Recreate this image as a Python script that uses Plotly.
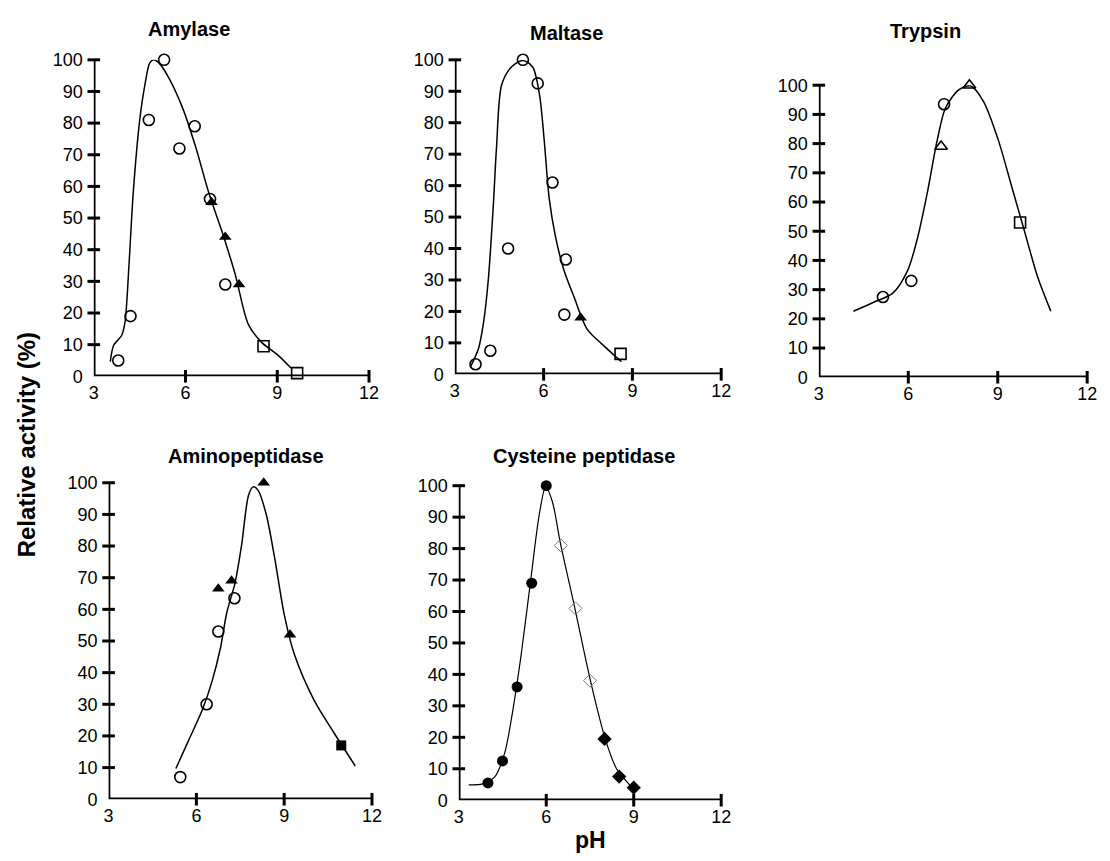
import plotly.graph_objects as go
from plotly.subplots import make_subplots

# ---------------- data (pH, relative activity %) ----------------
# Amylase
amy_circ_x = [3.8, 4.2, 4.8, 5.3, 5.8, 6.3, 6.8, 7.3]
amy_circ_y = [5, 19, 81, 100, 72, 79, 56, 29]
amy_tri_x = [6.85, 7.3, 7.75]
amy_tri_y = [55, 44, 29]
amy_sq_x = [8.55, 9.65]
amy_sq_y = [9.5, 1]
amy_fit_x = [3.54, 3.65, 3.91, 4.02, 4.15, 4.29, 4.5, 4.67, 4.83, 4.96, 5.15, 5.47, 5.9, 6.33, 6.76, 7.19, 7.62, 8.05, 8.48, 9.02, 9.45]
amy_fit_y = [4.6, 9.8, 12.9, 17, 35, 58, 80.8, 92, 99, 100, 98.8, 94, 84.9, 72.5, 58, 45.8, 32.4, 16.5, 10.8, 6.7, 2.6]

# Maltase
mal_circ_x = [3.7, 4.2, 4.8, 5.3, 5.8, 6.3, 6.75, 6.7]
mal_circ_y = [3.2, 7.5, 40, 100, 92.5, 61, 36.5, 19]
mal_tri_x = [7.25]
mal_tri_y = [18]
mal_sq_x = [8.6]
mal_sq_y = [6.5]
mal_fit_x = [3.52, 3.8, 3.97, 4.13, 4.3, 4.41, 4.58, 4.91, 5.3, 5.63, 5.86, 6.02, 6.19, 6.41, 6.69, 7.02, 7.47, 8.02, 8.63]
mal_fit_y = [2.2, 8.2, 16.5, 30, 53.7, 72.4, 92, 97.7, 99.8, 97.7, 89, 74.4, 55.8, 43.4, 33, 24.8, 14.4, 9.2, 4]

# Trypsin
try_circ_x = [5.15, 6.1, 7.2]
try_circ_y = [27.5, 33, 93.5]
try_otri_x = [7.1, 8.05]
try_otri_y = [79, 100]
try_sq_x = [9.75]
try_sq_y = [53]
try_fit_x = [4.16, 4.82, 5.48, 5.98, 6.31, 6.64, 6.97, 7.25, 7.69, 8.08, 8.52, 9.02, 9.46, 9.9, 10.34, 10.78]
try_fit_y = [22.6, 25.6, 28.8, 36.6, 47.7, 63.3, 81.2, 92.3, 98.4, 99.8, 94.5, 81.2, 65.6, 49.9, 34.3, 22.6]

# Aminopeptidase
ami_circ_x = [5.45, 6.35, 6.75, 7.3]
ami_circ_y = [7, 30, 53, 63.5]
ami_tri_x = [6.75, 7.2, 8.3, 9.2]
ami_tri_y = [66.5, 69, 100, 52]
ami_fsq_x = [10.95]
ami_fsq_y = [17]
ami_fit_x = [5.3, 5.75, 6.2, 6.54, 6.82, 7.04, 7.32, 7.55, 7.78, 7.94, 8.11, 8.39, 8.67, 9.01, 9.35, 10.02, 10.7, 11.43]
ami_fit_y = [9.7, 18.9, 28.2, 37.4, 47.7, 59, 68.3, 80.6, 96, 98.7, 97.6, 89.9, 76.5, 58, 45.7, 31.3, 21, 10.5]

# Cysteine peptidase
cys_fcirc_x = [4.0, 4.5, 5.0, 5.5, 6.0]
cys_fcirc_y = [5.5, 12.5, 36, 69, 100]
cys_odia_x = [6.5, 7.0, 7.5]
cys_odia_y = [81, 61, 38]
cys_fdia_x = [8.0, 8.5, 9.0]
cys_fdia_y = [19.5, 7.5, 4]
cys_fit_x = [3.34, 3.79, 4.24, 4.58, 4.8, 5.14, 5.48, 5.76, 5.98, 6.21, 6.49, 6.94, 7.39, 7.73, 8.01, 8.41, 8.97]
cys_fit_y = [4.9, 5.1, 7.5, 15.2, 25.6, 46.3, 71, 90.8, 99.6, 94.9, 81.5, 62.8, 43.2, 29.7, 19.9, 10, 3.8]

panel_titles = ["Amylase", "Maltase", "Trypsin", "Aminopeptidase", "Cysteine peptidase"]
x_range = [3, 12]
y_range = [0, 100]
x_ticks = [3, 6, 9, 12]
y_ticks = [0, 10, 20, 30, 40, 50, 60, 70, 80, 90, 100]
y_label = "Relative activity (%)"
x_label = "pH"

# ---------------- layout geometry ----------------
W, H = 1110, 861
# pixel boxes: (left, right, top, bottom)
boxes = [
    (90, 369, 51, 375),
    (456, 726, 51, 373),
    (825, 1097, 77, 376),
    (105, 372, 484, 808),
    (460, 726, 487, 809),
]
cells = [(1, 1), (1, 2), (1, 3), (2, 1), (2, 2)]
title_pos = [(187, 19), (569, 24), (933, 21), (244, 457), (587, 457)]

FONT = "Liberation Sans, Arial, sans-serif"
fig = make_subplots(rows=2, cols=3)


def add_scatter(i, x, y, symbol, color="black", lw=1.6, size=10):
    r, c = cells[i]
    fig.add_trace(go.Scatter(
        x=x, y=y, mode="markers",
        marker=dict(symbol=symbol, size=size, color=color,
                    line=dict(width=lw, color=color)),
        cliponaxis=False, showlegend=False), row=r, col=c)


def add_fit(i, x, y, w=1.5):
    r, c = cells[i]
    fig.add_trace(go.Scatter(
        x=x, y=y, mode="lines",
        line=dict(color="black", width=w, shape="spline", smoothing=0.8),
        cliponaxis=False, showlegend=False, hoverinfo="skip"), row=r, col=c)


# axis frame (left + bottom) drawn along the axis ranges, with tick nubs
for i in range(5):
    r, c = cells[i]
    fig.add_trace(go.Scatter(
        x=[x_range[0], x_range[0], x_range[1]], y=[y_range[1], y_range[0], y_range[0]],
        mode="lines", line=dict(color="black", width=3.5),
        cliponaxis=False, showlegend=False, hoverinfo="skip"), row=r, col=c)
    fig.add_trace(go.Scatter(
        x=x_ticks[1:], y=[y_range[0]] * (len(x_ticks) - 1), mode="markers",
        marker=dict(symbol="line-ns", size=9, line=dict(width=3, color="black")),
        cliponaxis=False, showlegend=False, hoverinfo="skip"), row=r, col=c)
    fig.add_trace(go.Scatter(
        x=[x_range[0]] * (len(y_ticks) - 1), y=y_ticks[1:], mode="markers",
        marker=dict(symbol="line-ew", size=9, line=dict(width=3, color="black")),
        cliponaxis=False, showlegend=False, hoverinfo="skip"), row=r, col=c)

# fitted curves (under data markers)
add_fit(0, amy_fit_x, amy_fit_y)
add_fit(1, mal_fit_x, mal_fit_y)
add_fit(2, try_fit_x, try_fit_y)
add_fit(3, ami_fit_x, ami_fit_y)
add_fit(4, cys_fit_x, cys_fit_y, w=1.2)

# data markers
add_scatter(0, amy_circ_x, amy_circ_y, "circle-open", size=11)
add_scatter(0, amy_tri_x, amy_tri_y, "triangle-up", size=11, lw=0)
add_scatter(0, amy_sq_x, amy_sq_y, "square-open", size=11)

add_scatter(1, mal_circ_x, mal_circ_y, "circle-open", size=11)
add_scatter(1, mal_tri_x, mal_tri_y, "triangle-up", size=11, lw=0)
add_scatter(1, mal_sq_x, mal_sq_y, "square-open", size=11)

add_scatter(2, try_circ_x, try_circ_y, "circle-open", size=11)
add_scatter(2, try_otri_x, try_otri_y, "triangle-up-open", size=11)
add_scatter(2, try_sq_x, try_sq_y, "square-open", size=11)

add_scatter(3, ami_circ_x, ami_circ_y, "circle-open", size=11)
add_scatter(3, ami_tri_x, ami_tri_y, "triangle-up", size=11, lw=0)
add_scatter(3, ami_fsq_x, ami_fsq_y, "square", size=10, lw=0)

add_scatter(4, cys_fcirc_x, cys_fcirc_y, "circle", size=11, lw=0)
add_scatter(4, cys_odia_x, cys_odia_y, "diamond-open", size=10, lw=1, color="#777777")
add_scatter(4, cys_fdia_x, cys_fdia_y, "diamond", size=11, lw=0)

fig.update_layout(
    width=W, height=H, margin=dict(l=0, r=0, t=0, b=0),
    paper_bgcolor="white", plot_bgcolor="rgba(0,0,0,0)",
    font=dict(family=FONT, size=18, color="black"),
    showlegend=False,
)
fig.update_xaxes(showline=False, showgrid=False, zeroline=False, ticks="",
                 range=x_range, tickvals=x_ticks, ticklabelstandoff=4,
                 tickfont=dict(family=FONT, size=18, color="black"))
fig.update_yaxes(showline=False, showgrid=False, zeroline=False, ticks="",
                 range=y_range, tickvals=y_ticks, ticklabelstandoff=10,
                 tickfont=dict(family=FONT, size=18, color="black"))

for i, (l, r, t, b) in enumerate(boxes):
    row, col = cells[i]
    fig.update_xaxes(domain=[l / W, r / W], row=row, col=col)
    fig.update_yaxes(domain=[1 - b / H, 1 - t / H], row=row, col=col)

# hide the unused 6th subplot
fig.update_xaxes(visible=False, row=2, col=3)
fig.update_yaxes(visible=False, row=2, col=3)

annotations = []
for i in range(5):
    tx, ty = title_pos[i]
    annotations.append(dict(text="<b>%s</b>" % panel_titles[i], x=tx / W, y=1 - ty / H,
                            xref="paper", yref="paper", showarrow=False,
                            xanchor="center", yanchor="middle",
                            font=dict(family=FONT, size=20, color="black")))
annotations.append(dict(text="<b>%s</b>" % y_label, x=22 / W, y=1 - 445 / H,
                        xref="paper", yref="paper", showarrow=False, textangle=-90,
                        xanchor="center", yanchor="middle",
                        font=dict(family=FONT, size=24, color="black")))
annotations.append(dict(text="<b>%s</b>" % x_label, x=594 / W, y=1 - 850 / H,
                        xref="paper", yref="paper", showarrow=False,
                        xanchor="center", yanchor="middle",
                        font=dict(family=FONT, size=23, color="black")))
fig.update_layout(annotations=annotations)

fig.write_html(
    "out.html",
    config={"displayModeBar": False},
    post_script="document.body.style.margin='0';document.body.style.overflow='hidden';",
)
